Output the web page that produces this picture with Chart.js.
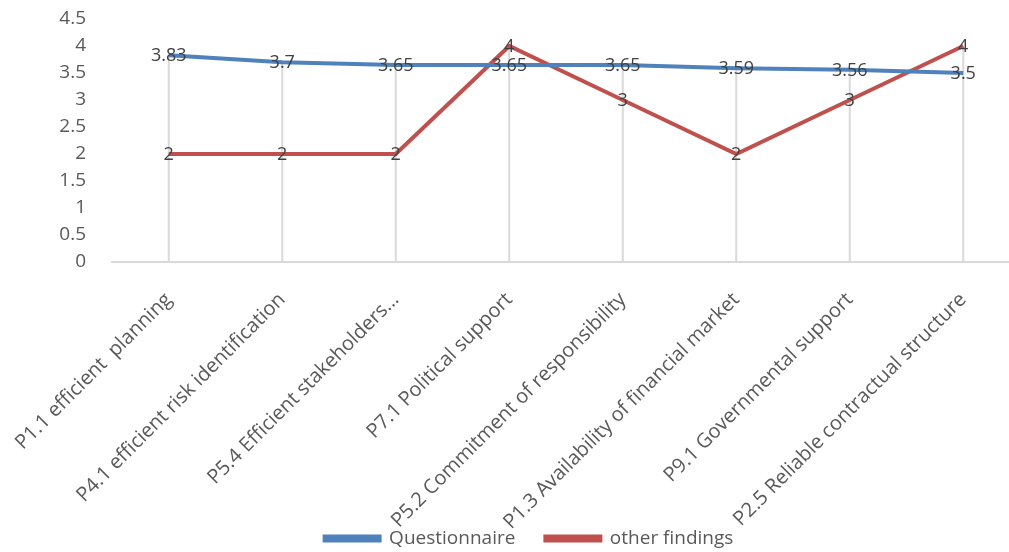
<!DOCTYPE html>
<html>
<head>
<meta charset="utf-8">
<script src="https://cdn.jsdelivr.net/npm/chart.js@4/dist/chart.umd.min.js"></script>
<style>
  html, body { margin: 0; padding: 0; background: #fff; overflow: hidden; }
  #wrap { width: 1020px; height: 552px; }
</style>
</head>
<body>
<div id="wrap"><canvas id="c" width="1020" height="552"></canvas></div>
<script>
// Categories (success factors) along the x axis
const categories = [
  'P1.1 efficient  planning',
  'P4.1 efficient risk identification',
  'P5.4 Efficient stakeholders…',
  'P7.1 Political support',
  'P5.2 Commitment of responsibility',
  'P1.3 Availability of financial market',
  'P9.1 Governmental support',
  'P2.5 Reliable contractual structure'
];
// Mean scores per factor
const questionnaire = [3.83, 3.7, 3.65, 3.65, 3.65, 3.59, 3.56, 3.5];
const otherFindings = [2, 2, 2, 4, 3, 2, 3, 4];
// Value axis range
const yMin = 0, yMax = 4.5, yStep = 0.5;

const FONT = '"Open Sans", "Liberation Sans", sans-serif';
const TEXT = '#595959';

// Vertical drop lines from the highest point of each category down to the axis
const dropLines = {
  id: 'dropLines',
  beforeDatasetsDraw(chart) {
    const { ctx, scales: { x, y } } = chart;
    ctx.save();
    ctx.strokeStyle = '#d9d9d9';
    ctx.lineWidth = 2;
    categories.forEach((_, i) => {
      const top = Math.max(...chart.data.datasets.map(d => d.data[i]));
      const px = x.getPixelForValue(i);
      ctx.beginPath();
      ctx.moveTo(px, y.getPixelForValue(top));
      ctx.lineTo(px, y.getPixelForValue(0));
      ctx.stroke();
    });
    ctx.restore();
  }
};

// Value labels centred on each point
const valueLabels = {
  id: 'valueLabels',
  afterDatasetsDraw(chart) {
    const { ctx } = chart;
    ctx.save();
    ctx.font = '18px ' + FONT;
    ctx.fillStyle = '#404040';
    ctx.textAlign = 'center';
    ctx.textBaseline = 'middle';
    chart.data.datasets.forEach((ds, di) => {
      chart.getDatasetMeta(di).data.forEach((pt, i) => {
        ctx.fillText(String(ds.data[i]), pt.x, pt.y + 1);
      });
    });
    ctx.restore();
  }
};

// Let the long rotated category labels run down into the legend band
const longLabels = {
  id: 'longLabels',
  afterLayout(chart) {
    chart.scales.x.bottom = chart.height;
  }
};

new Chart(document.getElementById('c'), {
  type: 'line',
  data: {
    labels: categories,
    datasets: [
      {
        label: 'Questionnaire',
        data: questionnaire,
        borderColor: '#4F81BD',
        backgroundColor: '#4F81BD',
        borderWidth: 4,
        pointRadius: 0,
        tension: 0
      },
      {
        label: 'other findings',
        data: otherFindings,
        borderColor: '#C0504D',
        backgroundColor: '#C0504D',
        borderWidth: 4,
        pointRadius: 0,
        tension: 0
      }
    ]
  },
  options: {
    responsive: false,
    animation: false,
    layout: { padding: { left: 38, right: 0, top: 19, bottom: -6 } },
    plugins: {
      legend: {
        position: 'bottom',
        labels: {
          boxWidth: 55,
          boxHeight: 4,
          padding: 30,
          color: TEXT,
          font: { family: FONT, size: 19 }
        }
      },
      tooltip: { enabled: false }
    },
    scales: {
      x: {
        offset: true,
        grid: { display: false },
        border: { color: '#d9d9d9', width: 2 },
        ticks: {
          minRotation: 45,
          maxRotation: 45,
          autoSkip: false,
          color: TEXT,
          padding: 18,
          font: { family: FONT, size: 20 }
        },
        afterFit(scale) {
          scale.height = 237;
          scale.paddingLeft = 0;
          scale.paddingRight = 0;
        }
      },
      y: {
        min: yMin,
        max: yMax,
        grid: { display: false },
        border: { display: false },
        ticks: {
          stepSize: yStep,
          autoSkip: false,
          color: TEXT,
          padding: 18,
          font: { family: FONT, size: 19 },
          callback: v => String(v)
        },
        afterFit(scale) {
          scale.width = 74;
          scale.paddingTop = 0;
          scale.paddingBottom = 0;
        }
      }
    }
  },
  plugins: [dropLines, valueLabels, longLabels]
});
</script>
</body>
</html>
